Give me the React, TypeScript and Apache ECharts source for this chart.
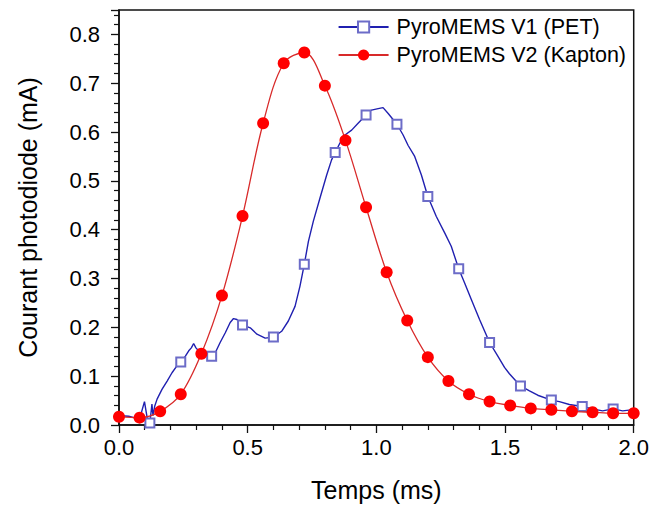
import React, { useEffect, useRef } from "react";
import * as echarts from "echarts";

const xTicks = [0.0, 0.5, 1.0, 1.5, 2.0];
const yTicks = [0.0, 0.1, 0.2, 0.3, 0.4, 0.5, 0.6, 0.7, 0.8];

const seriesNames = ["PyroMEMS V1 (PET)", "PyroMEMS V2 (Kapton)"];

// PyroMEMS V1 (PET) trace
const blueX = [
  0.0, 0.006, 0.038, 0.064, 0.083, 0.099, 0.109, 0.12, 0.128, 0.132, 0.139, 0.148, 0.167, 0.187,
  0.206, 0.225, 0.24, 0.258, 0.271, 0.281, 0.29, 0.299, 0.309, 0.32, 0.335, 0.36, 0.374, 0.393,
  0.413, 0.432, 0.445, 0.458, 0.48, 0.51, 0.536, 0.568, 0.6, 0.632, 0.658, 0.684, 0.703, 0.72,
  0.736, 0.755, 0.781, 0.807, 0.826, 0.84, 0.858, 0.878, 0.904, 0.929, 0.96, 0.981, 1.007, 1.026,
  1.046, 1.08, 1.104, 1.123, 1.149, 1.175, 1.2, 1.233, 1.266, 1.291, 1.32, 1.343, 1.369, 1.401,
  1.44, 1.472, 1.498, 1.517, 1.56, 1.595, 1.627, 1.68, 1.711, 1.75, 1.8, 1.84, 1.879, 1.92,
  1.957, 1.99,
];
const blueY = [
  0.018, 0.019, 0.018, 0.014, 0.018, 0.048, 0.016, 0.004, 0.043, 0.019, 0.039, 0.053, 0.073, 0.09,
  0.107, 0.121, 0.129, 0.141, 0.152, 0.158, 0.167, 0.158, 0.152, 0.148, 0.143, 0.141, 0.148, 0.169,
  0.189, 0.21, 0.218, 0.216, 0.205, 0.199, 0.186, 0.178, 0.18, 0.192, 0.213, 0.243, 0.284, 0.329,
  0.376, 0.417, 0.465, 0.512, 0.543, 0.558, 0.577, 0.594, 0.604, 0.618, 0.635, 0.645, 0.648, 0.65,
  0.638, 0.616, 0.594, 0.573, 0.55, 0.512, 0.468, 0.427, 0.393, 0.366, 0.32, 0.291, 0.257, 0.216,
  0.169, 0.141, 0.118, 0.105, 0.08, 0.07, 0.061, 0.051, 0.048, 0.042, 0.038, 0.033, 0.029, 0.033,
  0.029, 0.031,
];
// x positions of the open-square markers on the V1 trace
const blueMarkX = [0.12, 0.24, 0.36, 0.48, 0.6, 0.72, 0.84, 0.96, 1.08, 1.2, 1.32, 1.44, 1.56, 1.68, 1.8, 1.92];

// PyroMEMS V2 (Kapton)
const redX = [
  0.0, 0.08, 0.16, 0.24, 0.32, 0.4, 0.48, 0.56, 0.64, 0.72, 0.8, 0.88, 0.96, 1.04, 1.12, 1.2, 1.28,
  1.36, 1.44, 1.52, 1.6, 1.68, 1.76, 1.84, 1.92, 2.0,
];
const redY = [
  0.017, 0.015, 0.028, 0.063, 0.146, 0.265, 0.428, 0.618, 0.741, 0.763, 0.695, 0.583, 0.446, 0.313,
  0.214, 0.139, 0.09, 0.063, 0.048, 0.04, 0.034, 0.031, 0.028, 0.026, 0.024, 0.024,
];

const FONT = "'Liberation Sans', Arial, Helvetica, sans-serif";

export default function App() {
  const ref = useRef<HTMLDivElement>(null);
  useEffect(() => {
    if (!ref.current) return;
    const chart = echarts.init(ref.current, undefined, { renderer: "svg" });
    const blueData = blueX.map((x, i) => {
      const isMark = blueMarkX.some((m) => Math.abs(m - x) < 1e-6);
      return isMark ? { value: [x, blueY[i]] } : { value: [x, blueY[i]], symbol: "none" };
    });
    const redData = redX.map((x, i) => [x, redY[i]]);
    chart.setOption({
      animation: false,
      backgroundColor: "#ffffff",
      textStyle: { fontFamily: FONT },
      grid: {
        left: 119,
        right: 18,
        top: 10,
        bottom: 81,
        show: true,
        borderColor: "#111",
        borderWidth: 1.5,
        backgroundColor: "transparent",
      },
      legend: {
        orient: "vertical",
        right: 21,
        top: 11,
        align: "left",
        itemWidth: 50,
        itemHeight: 14,
        itemGap: 6,
        textStyle: { fontSize: 21.5, color: "#000", fontFamily: FONT, padding: [0, 0, 0, 3] },
        data: seriesNames,
      },
      xAxis: {
        type: "value",
        min: 0,
        max: 2,
        interval: 0.5,
        name: "Temps (ms)",
        nameLocation: "middle",
        nameGap: 52,
        nameTextStyle: { fontSize: 25, color: "#000", fontFamily: FONT },
        axisLine: { show: true, lineStyle: { color: "#111", width: 1.5 } },
        axisTick: { show: true, inside: false, length: 8, lineStyle: { color: "#111", width: 1.3 } },
        minorTick: { show: true, splitNumber: 5, length: 5, lineStyle: { color: "#111", width: 1.2 } },
        splitLine: { show: false },
        axisLabel: {
          fontSize: 22,
          color: "#000",
          margin: 11,
          fontFamily: FONT,
          formatter: (v: number) => {
            const t = xTicks.find((k) => Math.abs(k - v) < 1e-6);
            return t === undefined ? "" : t.toFixed(1);
          },
        },
      },
      yAxis: {
        type: "value",
        min: 0,
        max: 0.85,
        interval: 0.1,
        name: "Courant photodiode (mA)",
        nameLocation: "middle",
        nameGap: 79,
        nameTextStyle: { fontSize: 25, color: "#000", fontFamily: FONT },
        axisLine: { show: true, lineStyle: { color: "#111", width: 1.5 } },
        axisTick: { show: true, inside: false, length: 8, lineStyle: { color: "#111", width: 1.3 } },
        minorTick: { show: true, splitNumber: 5, length: 5, lineStyle: { color: "#111", width: 1.2 } },
        splitLine: { show: false },
        axisLabel: {
          fontSize: 22,
          color: "#000",
          margin: 19,
          fontFamily: FONT,
          showMaxLabel: false,
          formatter: (v: number) => {
            const t = yTicks.find((k) => Math.abs(k - v) < 1e-6);
            return t === undefined ? "" : t.toFixed(1);
          },
        },
      },
      series: [
        {
          name: seriesNames[0],
          type: "line",
          data: blueData,
          symbol: "emptyRect",
          symbolSize: 9,
          showSymbol: true,
          showAllSymbol: true,
          lineStyle: { color: "#2020b0", width: 1.4 },
          itemStyle: { color: "#6c6cc8", borderColor: "#6c6cc8", borderWidth: 1.3 },
          z: 2,
        },
        {
          name: seriesNames[1],
          type: "line",
          data: redData,
          smooth: 0.35,
          symbol: "circle",
          symbolSize: 12,
          showAllSymbol: true,
          lineStyle: { color: "#d82a2a", width: 1.3 },
          itemStyle: { color: "#ff0000" },
          z: 3,
        },
      ],
    });
    return () => chart.dispose();
  }, []);
  return <div ref={ref} style={{ width: 652, height: 507, position: "absolute", left: 0, top: 0 }} />;
}
